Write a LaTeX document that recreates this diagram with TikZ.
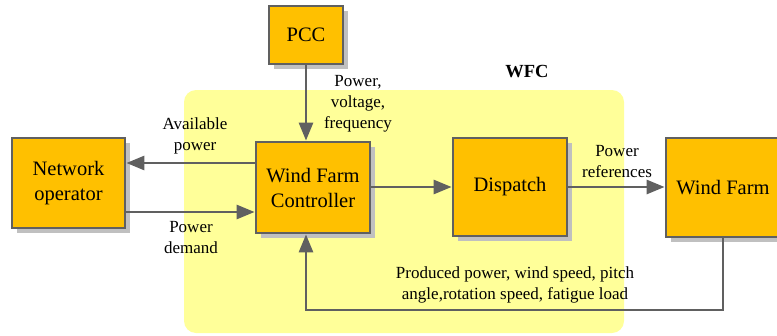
\documentclass[tikz,border=0pt]{standalone}
\usepackage{fontspec}
\setmainfont{Liberation Serif}
\newfontfamily\tnr{Liberation Serif}
\usetikzlibrary{arrows.meta,shadows}
\definecolor{boxfill}{HTML}{FFC000}
\definecolor{linegray}{HTML}{606060}
\definecolor{shadowgray}{HTML}{C0C0C0}
\definecolor{zone}{HTML}{FFFF99}
\tikzset{
  blk/.style={draw=linegray, line width=2.8pt, fill=boxfill, align=center,
    font=\tnr\fontsize{20.5}{25}\selectfont, inner sep=0pt,
    drop shadow={shadow xshift=5pt, shadow yshift=-5pt, fill=shadowgray, opacity=1}},
  arr/.style={draw=linegray, line width=2.8pt, -{Triangle[length=18pt,width=14pt]}},
  lbl/.style={align=center, font=\tnr\fontsize{17}{21}\selectfont, inner sep=0pt},
}
\begin{document}
\begin{tikzpicture}[x=1pt,y=-1pt]
\useasboundingbox (0,0) rectangle (777,335);
\fill[zone, rounded corners=12pt] (184,90) rectangle (624,333);
\node[font=\tnr\bfseries\fontsize{18.5}{20}\selectfont] (wfclbl) at (527,72) {WFC};
\node[blk, minimum width=74pt, minimum height=58pt] (pcc) at (306,35) {PCC};
\node[blk, minimum width=113pt, minimum height=90pt] (no) at (68.5,183) {Network\\operator};
\node[blk, minimum width=114pt, minimum height=91pt] (wfc) at (313,187.5) {Wind Farm\\Controller};
\node[blk, minimum width=114pt, minimum height=98pt] (disp) at (510,187) {Dispatch};
\node[blk, minimum width=114pt, minimum height=99pt] (wf) at (723,187.5) {Wind Farm};
\coordinate (ya) at (0,163);
\coordinate (yd) at (0,212);
\coordinate (fb) at (0,310);
\draw[arr] (pcc.south) -- (pcc |- wfc.north);
\draw[arr] (wfc.west |- ya) -- (no.east |- ya);
\draw[arr] (no.east |- yd) -- (wfc.west |- yd);
\draw[arr] (wfc.east |- disp) -- (disp.west);
\draw[arr] (disp.east) -- (wf.west |- disp);
\draw[arr] (wf.south) -- (wf.south |- fb) -| (pcc |- wfc.south);
\node[lbl] (l1) at (195,136) {Available\\power};
\node[lbl] (l2) at (191,238) {Power\\demand};
\node[lbl] (l3) at (358,104) {Power,\\voltage,\\frequency};
\node[lbl] (l4) at (617,162) {Power\\references};
\node[lbl] (l5) at (515,285) {Produced power, wind speed, pitch\\angle,rotation speed, fatigue load};
\end{tikzpicture}
\end{document}
